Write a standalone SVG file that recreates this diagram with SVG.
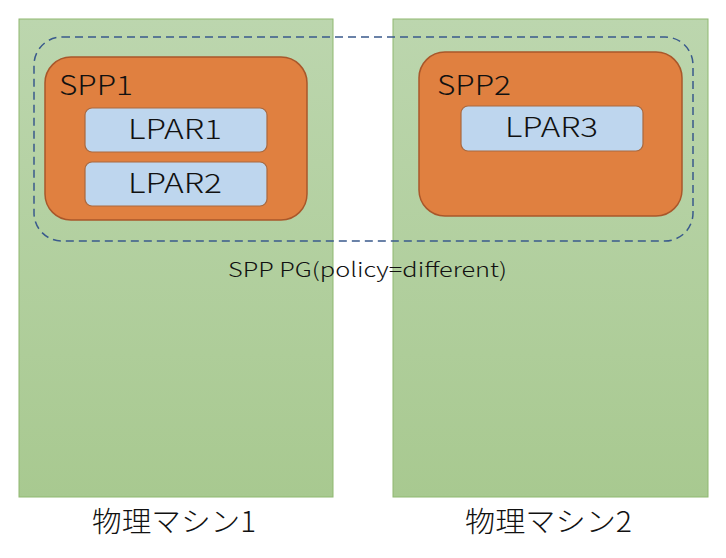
<svg xmlns="http://www.w3.org/2000/svg" width="726" height="558" viewBox="0 0 726 558">
<defs>
<linearGradient id="g" x1="0" y1="0" x2="0" y2="1">
<stop offset="0" stop-color="#bcd6ae"/>
<stop offset="1" stop-color="#a8c990"/>
</linearGradient>
<style>
.m{fill:url(#g);stroke:#8fb870;stroke-width:1}
.spp{fill:#e08040;stroke:#a9572a;stroke-width:1.5}
.lp{fill:#bed6ee;stroke:#a9683e;stroke-width:1.2}
.t{font-family:"Noto Sans CJK JP","Noto Sans",sans-serif;font-weight:300;fill:#111}
.pg{fill:none;stroke:#3a5a8c;stroke-width:1.5;stroke-dasharray:8 5}
</style>
</defs>
<rect width="726" height="558" fill="#fff"/>
<g id="machine1">
<rect class="m" x="19" y="19" width="314" height="478"/>
<text class="t" x="92" y="532" font-size="28" textLength="164" lengthAdjust="spacingAndGlyphs">物理マシン1</text>
</g>
<g id="machine2">
<rect class="m" x="393" y="19" width="315" height="478"/>
<text class="t" x="465" y="532" font-size="28" textLength="167" lengthAdjust="spacingAndGlyphs">物理マシン2</text>
</g>
<g id="spp1">
<rect class="spp" x="45" y="57" width="262" height="163" rx="26"/>
<text class="t" x="59" y="95" font-size="27" textLength="74" lengthAdjust="spacingAndGlyphs">SPP1</text>
</g>
<g id="lpar1">
<rect class="lp" x="85" y="108" width="182" height="44" rx="7"/>
<text class="t" x="128" y="139" font-size="27" textLength="94" lengthAdjust="spacingAndGlyphs">LPAR1</text>
</g>
<g id="lpar2">
<rect class="lp" x="85" y="162" width="182" height="44" rx="7"/>
<text class="t" x="128" y="193" font-size="27" textLength="94" lengthAdjust="spacingAndGlyphs">LPAR2</text>
</g>
<g id="spp2">
<rect class="spp" x="419" y="52" width="263" height="164" rx="26"/>
<text class="t" x="437" y="95" font-size="27" textLength="74" lengthAdjust="spacingAndGlyphs">SPP2</text>
</g>
<g id="lpar3">
<rect class="lp" x="461" y="106" width="182" height="45" rx="7"/>
<text class="t" x="505" y="137" font-size="27" textLength="93" lengthAdjust="spacingAndGlyphs">LPAR3</text>
</g>
<g id="spppg">
<rect class="pg" x="34" y="37" width="659" height="204" rx="28"/>
<text class="t" x="228" y="277" font-size="20" textLength="279" lengthAdjust="spacingAndGlyphs">SPP PG(policy=different)</text>
</g>
<g id="connectors"/>
</svg>
